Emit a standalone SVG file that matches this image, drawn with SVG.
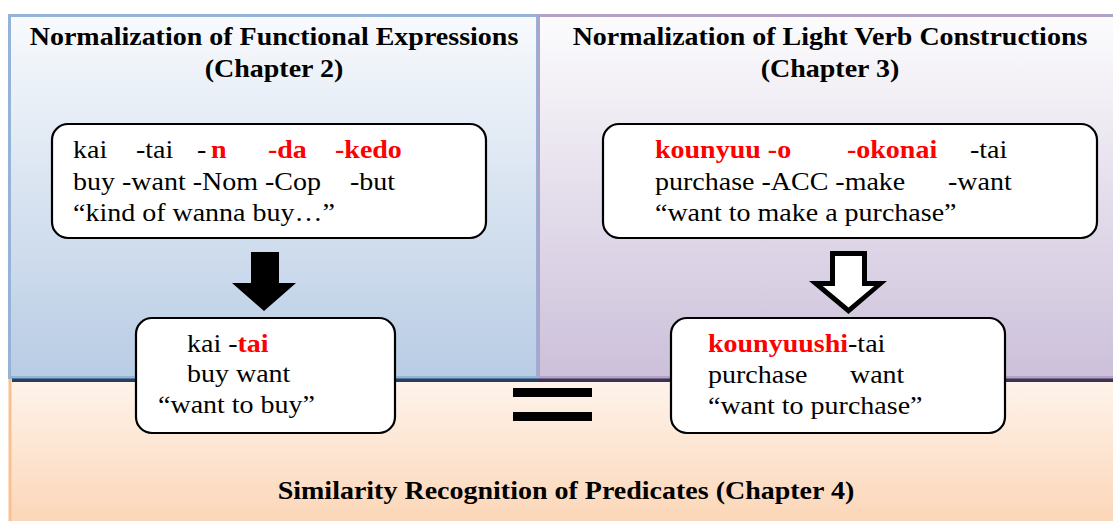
<svg xmlns="http://www.w3.org/2000/svg" width="1113" height="521" viewBox="0 0 1113 521">
<style>
svg text, svg tspan{font-family:'Liberation Serif','Times New Roman',serif !important}
.t{font-weight:bold}
.r{font-weight:bold;fill:#ff0000}
.box{fill:#fff;stroke:#000;stroke-width:2.2}
</style>
<defs>
<linearGradient id="gL" x1="0" y1="0" x2="0" y2="1"><stop offset="0" stop-color="#f8fafd"/><stop offset="1" stop-color="#b8cce4"/></linearGradient>
<linearGradient id="gR" x1="0" y1="0" x2="0" y2="1"><stop offset="0" stop-color="#fcfcfd"/><stop offset="1" stop-color="#ccc0da"/></linearGradient>
<linearGradient id="gB" x1="0" y1="0" x2="0" y2="1"><stop offset="0" stop-color="#fef4ec"/><stop offset="1" stop-color="#fbd3b2"/></linearGradient>
</defs>
<g font-family="Liberation Serif, serif" font-size="28" fill="#000">
<g id="panel-bottom">
<rect x="10" y="378" width="1120" height="160" fill="url(#gB)" stroke="#fac090" stroke-width="3"/>
<text style="font-family:'Liberation Serif',serif" class="t" text-anchor="middle" transform="translate(0,499) scale(1,0.87)" x="566" y="0">Similarity Recognition of Predicates (Chapter 4)</text>
</g>
<g id="panel-left">
<rect x="9.5" y="15.5" width="528" height="362" fill="url(#gL)" stroke="#95b3d7" stroke-width="3"/>
<text style="font-family:'Liberation Serif',serif" class="t" text-anchor="middle" transform="translate(0,45) scale(1,0.87)" x="274" y="0">Normalization of Functional Expressions</text>
<text style="font-family:'Liberation Serif',serif" class="t" text-anchor="middle" transform="translate(0,77) scale(1,0.87)" x="274" y="0">(Chapter 2)</text>
</g>
<g id="panel-right">
<rect x="538.5" y="15.5" width="600" height="362" fill="url(#gR)" stroke="#b3a2c7" stroke-width="3"/>
<text style="font-family:'Liberation Serif',serif" class="t" text-anchor="middle" transform="translate(0,45) scale(1,0.87)" x="830" y="0">Normalization of Light Verb Constructions</text>
<text style="font-family:'Liberation Serif',serif" class="t" text-anchor="middle" transform="translate(0,77) scale(1,0.87)" x="830" y="0">(Chapter 3)</text>
</g>
<g id="divider">
<rect x="12" y="378.5" width="526" height="3.5" fill="#243f60"/>
<rect x="538" y="378.5" width="580" height="3.5" fill="#3f3151"/>
</g>
<g id="connectors">
<polygon points="251,252 279,252 279,283 296,283 264,311 232,283 251,283" fill="#000"/>
<polygon points="830,251 867,251 867,281 887,281 848.5,314 809,281 830,281" fill="#000"/>
<polygon points="835,256 862,256 862,286 874.2,286 848.5,307.5 822.8,286 835,286" fill="#fff"/>
<rect x="513" y="388" width="79" height="9" fill="#000"/>
<rect x="513" y="412" width="79" height="9" fill="#000"/>
</g>
<g id="node-fe-source">
<rect class="box" x="52" y="124" width="434" height="114" rx="16"/>
<text style="font-family:'Liberation Serif',serif" transform="translate(0,158) scale(1,0.87)" y="0"><tspan x="73">kai</tspan><tspan x="136">-tai</tspan><tspan x="197">-</tspan><tspan class="r" x="211">n</tspan><tspan class="r" x="268">-da</tspan><tspan class="r" x="335">-kedo</tspan></text>
<text style="font-family:'Liberation Serif',serif" transform="translate(0,190) scale(1,0.87)" y="0"><tspan x="73">buy -want -Nom -Cop</tspan><tspan x="350">-but</tspan></text>
<text style="font-family:'Liberation Serif',serif" transform="translate(0,221) scale(1,0.87)" x="73" y="0">“kind of wanna buy…”</text>
</g>
<g id="node-lvc-source">
<rect class="box" x="603" y="124" width="494" height="114" rx="16"/>
<text style="font-family:'Liberation Serif',serif" transform="translate(0,158) scale(1,0.87)" y="0"><tspan class="r" x="655">kounyuu -o</tspan><tspan class="r" x="847">-okonai</tspan><tspan x="970">-tai</tspan></text>
<text style="font-family:'Liberation Serif',serif" transform="translate(0,190) scale(1,0.87)" y="0"><tspan x="655">purchase -ACC -make</tspan><tspan x="948">-want</tspan></text>
<text style="font-family:'Liberation Serif',serif" transform="translate(0,221) scale(1,0.87)" x="655" y="0">“want to make a purchase”</text>
</g>
<g id="node-fe-result">
<rect class="box" x="136" y="318" width="259" height="115" rx="16"/>
<text style="font-family:'Liberation Serif',serif" transform="translate(0,352) scale(1,0.87)" x="187" y="0">kai -<tspan class="r">tai</tspan></text>
<text style="font-family:'Liberation Serif',serif" transform="translate(0,382) scale(1,0.87)" x="187" y="0">buy want</text>
<text style="font-family:'Liberation Serif',serif" transform="translate(0,413) scale(1,0.87)" x="158" y="0">“want to buy”</text>
</g>
<g id="node-lvc-result">
<rect class="box" x="671" y="318" width="334" height="115" rx="16"/>
<text style="font-family:'Liberation Serif',serif" transform="translate(0,352) scale(1,0.87)" x="708" y="0"><tspan class="r">kounyuushi</tspan>-tai</text>
<text style="font-family:'Liberation Serif',serif" transform="translate(0,383) scale(1,0.87)" y="0"><tspan x="708">purchase</tspan><tspan x="850">want</tspan></text>
<text style="font-family:'Liberation Serif',serif" transform="translate(0,414) scale(1,0.87)" x="708" y="0">“want to purchase”</text>
</g>
</g>
</svg>
